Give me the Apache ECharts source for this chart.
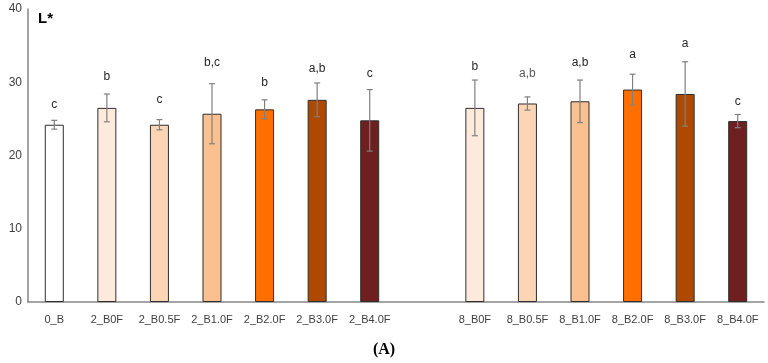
<!DOCTYPE html>
<html>
<head>
<meta charset="utf-8">
<script src="https://cdn.jsdelivr.net/npm/echarts@6/dist/echarts.min.js"></script>
<style>
html, body { margin: 0; padding: 0; background: #fff; }
#chart { width: 768px; height: 363px; }
</style>
</head>
<body>
<div id="chart"></div>
<script>
var categories = ['0_B', '2_B0F', '2_B0.5F', '2_B1.0F', '2_B2.0F', '2_B3.0F', '2_B4.0F', '',
    '8_B0F', '8_B0.5F', '8_B1.0F', '8_B2.0F', '8_B3.0F', '8_B4.0F'];
var means = [24.2, 26.5, 24.2, 25.7, 26.3, 27.6, 24.8, null, 26.5, 27.1, 27.4, 29.0, 28.4, 24.7];
var errors = [0.6, 1.9, 0.7, 4.1, 1.3, 2.3, 4.2, null, 3.8, 0.9, 2.9, 2.1, 4.4, 0.9];
var letters = ['c', 'b', 'c', 'b,c', 'b', 'a,b', 'c', '', 'b', 'a,b', 'a,b', 'a', 'a', 'c'];
var letterY = [27.0, 30.7, 27.6, 32.7, 30.0, 31.9, 31.2, null, 32.1, 31.2, 32.7, 33.8, 35.2, 27.4];
var colors = ['#FFFFFF', '#FDEADA', '#FCD5B5', '#FAC090', '#FF6F00', '#AD4A00', '#6F1F1F', '#FFFFFF',
    '#FDEADA', '#FCD5B5', '#FAC090', '#FF6F00', '#AD4A00', '#6F1F1F'];

var chartDom = document.getElementById('chart');
var myChart = echarts.init(chartDom);

var barData = means.map(function (v, i) {
    return {
        value: v === null ? '-' : v,
        itemStyle: { color: colors[i] }
    };
});
var errData = [];
means.forEach(function (v, i) {
    if (v !== null) errData.push([i, v - errors[i], v + errors[i]]);
});
var letterData = [];
letters.forEach(function (t, i) {
    if (t) letterData.push([i, letterY[i], t]);
});

var option = {
    animation: false,
    grid: { left: 28, right: 4, top: 9, bottom: 61 },
    graphic: [
        { type: 'text', left: 38, top: 11, style: { text: 'L*', font: 'bold 15px "Liberation Sans"', fill: '#000' } },
        { type: 'text', left: 'center', top: 342, style: { text: '(A)', font: 'bold 16px "Liberation Serif"', fill: '#000' } }
    ],
    xAxis: {
        type: 'category',
        data: categories,
        axisLine: { lineStyle: { color: '#868686', width: 1.5 } },
        axisTick: { show: false },
        axisLabel: { color: '#404040', fontSize: 11, fontFamily: 'Liberation Sans', margin: 12, interval: 0 }
    },
    yAxis: {
        type: 'value',
        min: 0,
        max: 40,
        interval: 10,
        axisLine: { show: true, lineStyle: { color: '#868686', width: 1.5 } },
        axisTick: { show: false },
        splitLine: { show: false },
        axisLabel: { color: '#404040', fontSize: 12, fontFamily: 'Liberation Sans', margin: 6 }
    },
    series: [
        {
            type: 'bar',
            data: barData,
            barWidth: 19,
            itemStyle: { borderColor: '#2e2e2e', borderWidth: 1 }
        },
        {
            type: 'custom',
            data: errData,
            z: 5,
            renderItem: function (params, api) {
                var x = api.coord([api.value(0), api.value(1)])[0];
                var lo = api.coord([api.value(0), api.value(1)])[1];
                var hi = api.coord([api.value(0), api.value(2)])[1];
                var style = { stroke: '#808080', lineWidth: 1.2 };
                return {
                    type: 'group',
                    children: [
                        { type: 'line', shape: { x1: x, y1: lo, x2: x, y2: hi }, style: style },
                        { type: 'line', shape: { x1: x - 3, y1: lo, x2: x + 3, y2: lo }, style: style },
                        { type: 'line', shape: { x1: x - 3, y1: hi, x2: x + 3, y2: hi }, style: style }
                    ]
                };
            }
        },
        {
            type: 'custom',
            data: letterData,
            z: 6,
            renderItem: function (params, api) {
                var p = api.coord([api.value(0), api.value(1)]);
                var txt = letterData[params.dataIndex][2];
                return {
                    type: 'text',
                    x: p[0],
                    y: p[1],
                    style: {
                        text: txt,
                        font: '12px "Liberation Sans"',
                        fill: api.value(0) === 9 ? '#595959' : '#262626',
                        align: 'center',
                        verticalAlign: 'middle'
                    }
                };
            }
        }
    ]
};

myChart.setOption(option);
</script>
</body>
</html>
